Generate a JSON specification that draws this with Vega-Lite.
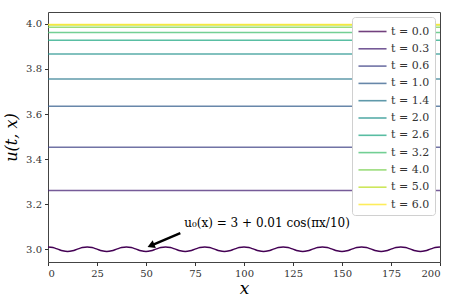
{
  "$schema": "https://vega.github.io/schema/vega-lite/v6.json",
  "autosize": "none",
  "width": 392,
  "height": 250,
  "padding": {"left": 48, "top": 12, "right": 18, "bottom": 43},
  "background": "white",
  "config": {
    "font": "DejaVu Serif",
    "view": {"stroke": "#444", "strokeWidth": 1},
    "axis": {"labelFont": "DejaVu Serif", "titleFont": "DejaVu Serif", "labelFontSize": 10, "labelColor": "#333", "tickColor": "#333", "domain": false, "grid": false, "tickSize": 3.5, "labelPadding": 3},
    "legend": {"labelFont": "DejaVu Serif", "labelFontSize": 11, "labelColor": "#333"}
  },
  "datasets": {
    "u0": [
      {"t": 0, "x": 0, "y": 3.01}, {"t": 0, "x": 2.5, "y": 3.0071}, {"t": 0, "x": 5, "y": 3.0}, {"t": 0, "x": 7.5, "y": 2.9929}, {"t": 0, "x": 10, "y": 2.99}, {"t": 0, "x": 12.5, "y": 2.9929}, {"t": 0, "x": 15, "y": 3.0}, {"t": 0, "x": 17.5, "y": 3.0071},
      {"t": 0, "x": 20, "y": 3.01}, {"t": 0, "x": 22.5, "y": 3.0071}, {"t": 0, "x": 25, "y": 3.0}, {"t": 0, "x": 27.5, "y": 2.9929}, {"t": 0, "x": 30, "y": 2.99}, {"t": 0, "x": 32.5, "y": 2.9929}, {"t": 0, "x": 35, "y": 3.0}, {"t": 0, "x": 37.5, "y": 3.0071},
      {"t": 0, "x": 40, "y": 3.01}, {"t": 0, "x": 42.5, "y": 3.0071}, {"t": 0, "x": 45, "y": 3.0}, {"t": 0, "x": 47.5, "y": 2.9929}, {"t": 0, "x": 50, "y": 2.99}, {"t": 0, "x": 52.5, "y": 2.9929}, {"t": 0, "x": 55, "y": 3.0}, {"t": 0, "x": 57.5, "y": 3.0071},
      {"t": 0, "x": 60, "y": 3.01}, {"t": 0, "x": 62.5, "y": 3.0071}, {"t": 0, "x": 65, "y": 3.0}, {"t": 0, "x": 67.5, "y": 2.9929}, {"t": 0, "x": 70, "y": 2.99}, {"t": 0, "x": 72.5, "y": 2.9929}, {"t": 0, "x": 75, "y": 3.0}, {"t": 0, "x": 77.5, "y": 3.0071},
      {"t": 0, "x": 80, "y": 3.01}, {"t": 0, "x": 82.5, "y": 3.0071}, {"t": 0, "x": 85, "y": 3.0}, {"t": 0, "x": 87.5, "y": 2.9929}, {"t": 0, "x": 90, "y": 2.99}, {"t": 0, "x": 92.5, "y": 2.9929}, {"t": 0, "x": 95, "y": 3.0}, {"t": 0, "x": 97.5, "y": 3.0071},
      {"t": 0, "x": 100, "y": 3.01}, {"t": 0, "x": 102.5, "y": 3.0071}, {"t": 0, "x": 105, "y": 3.0}, {"t": 0, "x": 107.5, "y": 2.9929}, {"t": 0, "x": 110, "y": 2.99}, {"t": 0, "x": 112.5, "y": 2.9929}, {"t": 0, "x": 115, "y": 3.0}, {"t": 0, "x": 117.5, "y": 3.0071},
      {"t": 0, "x": 120, "y": 3.01}, {"t": 0, "x": 122.5, "y": 3.0071}, {"t": 0, "x": 125, "y": 3.0}, {"t": 0, "x": 127.5, "y": 2.9929}, {"t": 0, "x": 130, "y": 2.99}, {"t": 0, "x": 132.5, "y": 2.9929}, {"t": 0, "x": 135, "y": 3.0}, {"t": 0, "x": 137.5, "y": 3.0071},
      {"t": 0, "x": 140, "y": 3.01}, {"t": 0, "x": 142.5, "y": 3.0071}, {"t": 0, "x": 145, "y": 3.0}, {"t": 0, "x": 147.5, "y": 2.9929}, {"t": 0, "x": 150, "y": 2.99}, {"t": 0, "x": 152.5, "y": 2.9929}, {"t": 0, "x": 155, "y": 3.0}, {"t": 0, "x": 157.5, "y": 3.0071},
      {"t": 0, "x": 160, "y": 3.01}, {"t": 0, "x": 162.5, "y": 3.0071}, {"t": 0, "x": 165, "y": 3.0}, {"t": 0, "x": 167.5, "y": 2.9929}, {"t": 0, "x": 170, "y": 2.99}, {"t": 0, "x": 172.5, "y": 2.9929}, {"t": 0, "x": 175, "y": 3.0}, {"t": 0, "x": 177.5, "y": 3.0071},
      {"t": 0, "x": 180, "y": 3.01}, {"t": 0, "x": 182.5, "y": 3.0071}, {"t": 0, "x": 185, "y": 3.0}, {"t": 0, "x": 187.5, "y": 2.9929}, {"t": 0, "x": 190, "y": 2.99}, {"t": 0, "x": 192.5, "y": 2.9929}, {"t": 0, "x": 195, "y": 3.0}, {"t": 0, "x": 197.5, "y": 3.0071},
      {"t": 0, "x": 200, "y": 3.01}
    ],
    "later": [
      {"t": 0.3, "x": 0, "y": 3.261}, {"t": 0.3, "x": 200, "y": 3.261},
      {"t": 0.6, "x": 0, "y": 3.453}, {"t": 0.6, "x": 200, "y": 3.453},
      {"t": 1.0, "x": 0, "y": 3.635}, {"t": 1.0, "x": 200, "y": 3.635},
      {"t": 1.4, "x": 0, "y": 3.756}, {"t": 1.4, "x": 200, "y": 3.756},
      {"t": 2.0, "x": 0, "y": 3.867}, {"t": 2.0, "x": 200, "y": 3.867},
      {"t": 2.6, "x": 0, "y": 3.928}, {"t": 2.6, "x": 200, "y": 3.928},
      {"t": 3.2, "x": 0, "y": 3.962}, {"t": 3.2, "x": 200, "y": 3.962},
      {"t": 4.0, "x": 0, "y": 3.985}, {"t": 4.0, "x": 200, "y": 3.985},
      {"t": 5.0, "x": 0, "y": 3.995}, {"t": 5.0, "x": 200, "y": 3.995},
      {"t": 6.0, "x": 0, "y": 3.998}, {"t": 6.0, "x": 200, "y": 3.998}
    ],
    "arrow": [
      {"x": 67.5, "y": 3.071, "part": "tail"},
      {"x": 52.5, "y": 3.016, "part": "head"}
    ],
    "label": [
      {"x": 69.5, "y": 3.117, "text": "u₀(x) = 3 + 0.01 cos(πx/10)"}
    ]
  },
  "layer": [
    {
      "data": {"name": "u0"},
      "mark": {"type": "line", "interpolate": "monotone", "strokeWidth": 1.5},
      "encoding": {
        "x": {"field": "x", "type": "quantitative", "scale": {"domain": [0, 200], "nice": false, "zero": false}, "axis": {"values": [0, 25, 50, 75, 100, 125, 150, 175, 200], "title": "x", "titleFontSize": 17, "titleFontStyle": "italic", "titleFontWeight": "normal", "titlePadding": 2}},
        "y": {"field": "y", "type": "quantitative", "scale": {"domain": [2.943, 4.053], "nice": false, "zero": false}, "axis": {"values": [3.0, 3.2, 3.4, 3.6, 3.8, 4.0], "format": ".1f", "title": "u(t, x)", "titleFontSize": 16, "titleFontStyle": "italic", "titleFontWeight": "normal", "titlePadding": 6}},
        "color": {
          "field": "t", "type": "ordinal",
          "scale": {"domain": [0, 0.3, 0.6, 1.0, 1.4, 2.0, 2.6, 3.2, 4.0, 5.0, 6.0], "range": ["#440154", "#482475", "#414487", "#355f8d", "#2a788e", "#21918c", "#22a884", "#44bf70", "#7ad151", "#bddf26", "#fde725"]},
          "legend": {
            "title": null, "orient": "top-right", "offset": 5,
            "labelExpr": "'t = ' + format(datum.value, '.1f')",
            "symbolType": "M-1.65,0H1.65", "symbolSize": 289, "symbolStrokeWidth": 1.6, "symbolOpacity": 0.75, "symbolOffset": 6,
            "fillColor": "white", "strokeColor": "#d0d0d0", "cornerRadius": 3, "padding": 5, "rowPadding": 2.3, "labelOffset": 9
          }
        }
      }
    },
    {
      "data": {"name": "later"},
      "mark": {"type": "line", "strokeWidth": 1.5, "opacity": 0.75},
      "encoding": {
        "x": {"field": "x", "type": "quantitative"},
        "y": {"field": "y", "type": "quantitative"},
        "color": {"field": "t", "type": "ordinal"}
      }
    },
    {
      "data": {"name": "arrow"},
      "mark": {"type": "line", "color": "black", "strokeWidth": 2.5},
      "encoding": {
        "x": {"field": "x", "type": "quantitative"},
        "y": {"field": "y", "type": "quantitative"}
      }
    },
    {
      "data": {"name": "arrow"},
      "transform": [{"filter": "datum.part == 'head'"}],
      "mark": {"type": "point", "shape": "triangle-up", "filled": true, "color": "black", "size": 70, "angle": 248, "opacity": 1},
      "encoding": {
        "x": {"field": "x", "type": "quantitative"},
        "y": {"field": "y", "type": "quantitative"}
      }
    },
    {
      "data": {"name": "label"},
      "mark": {"type": "text", "align": "left", "baseline": "middle", "fontSize": 12, "font": "DejaVu Serif", "color": "black"},
      "encoding": {
        "x": {"field": "x", "type": "quantitative"},
        "y": {"field": "y", "type": "quantitative"},
        "text": {"field": "text"}
      }
    }
  ]
}
